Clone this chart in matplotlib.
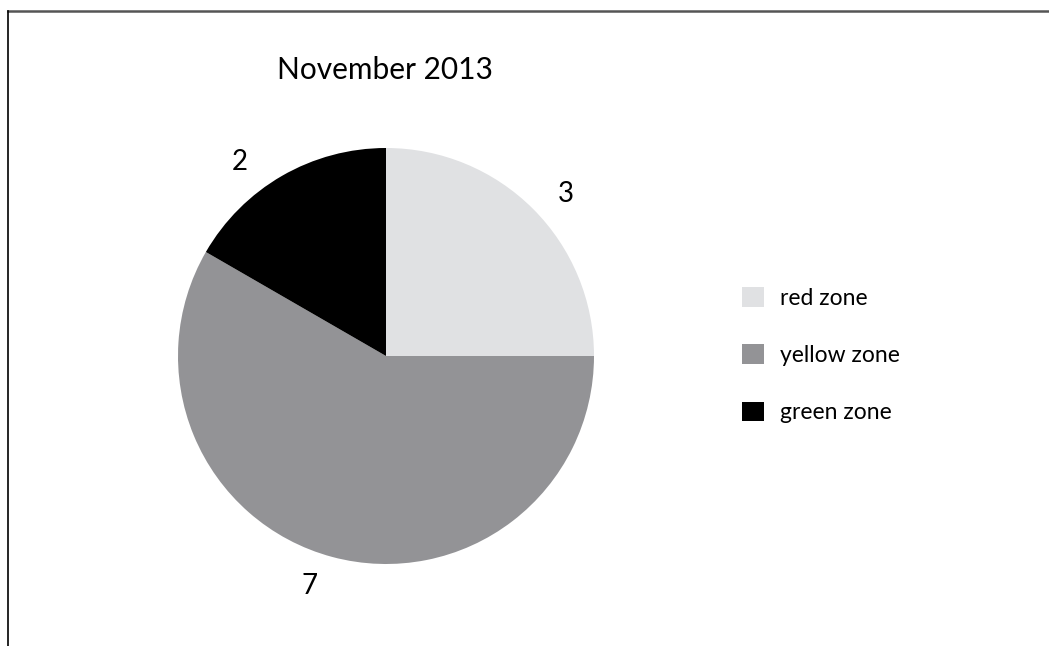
import numpy as np
import matplotlib.pyplot as plt
from matplotlib.lines import Line2D

plt.rcParams['font.family'] = ['Lato', 'DejaVu Sans']

title = "November 2013"
zones = ["red zone", "yellow zone", "green zone"]
counts = [3, 7, 2]
colors = ["#e0e1e3", "#939396", "#000000"]

W, H = 1049, 646
fig = plt.figure(figsize=(W / 100, H / 100), dpi=100)

# pie axes: centre (386, 356) px, radius 208 px
cx, cy, r = 386, 356, 208
ax = fig.add_axes([(cx - r) / W, (H - cy - r) / H, 2 * r / W, 2 * r / H])
wedges, texts = ax.pie(counts, colors=colors, startangle=90, counterclock=False,
                       labels=[str(c) for c in counts], labeldistance=1.165,
                       wedgeprops=dict(linewidth=0),
                       textprops=dict(fontsize=20, color="black"))
ax.set_xlim(-1, 1)
ax.set_ylim(-1, 1)
ax.set_aspect("equal")
ax.axis("off")

# value labels: centred, slightly turned off the wedge midline
nudge = [-3.0, -3.5, 7.0]
for w, t, d in zip(wedges, texts, nudge):
    a = np.deg2rad((w.theta1 + w.theta2) / 2 + d)
    t.set_position((1.165 * np.cos(a), 1.165 * np.sin(a)))
    t.set_ha("center")
    t.set_va("center")

fig.text(385 / W, 1 - 70 / H, title, ha="center", va="center", fontsize=21.5)

fig.legend(wedges, zones, loc="upper left", bbox_to_anchor=(742 / W, 1 - 287 / H),
           frameon=False, fontsize=16.5, handlelength=0.95, handleheight=0.95,
           handletextpad=0.7, labelspacing=1.55, borderpad=0, borderaxespad=0)

# frame lines: grey top edge, black left edge
fig.add_artist(Line2D([7.5 / W, 1], [1 - 10.5 / H, 1 - 10.5 / H],
                      transform=fig.transFigure, color="#555555", lw=1.8))
fig.add_artist(Line2D([7.5 / W, 7.5 / W], [0, 1 - 10.5 / H],
                      transform=fig.transFigure, color="black", lw=1.2))

fig.savefig("out.png", dpi=100)
